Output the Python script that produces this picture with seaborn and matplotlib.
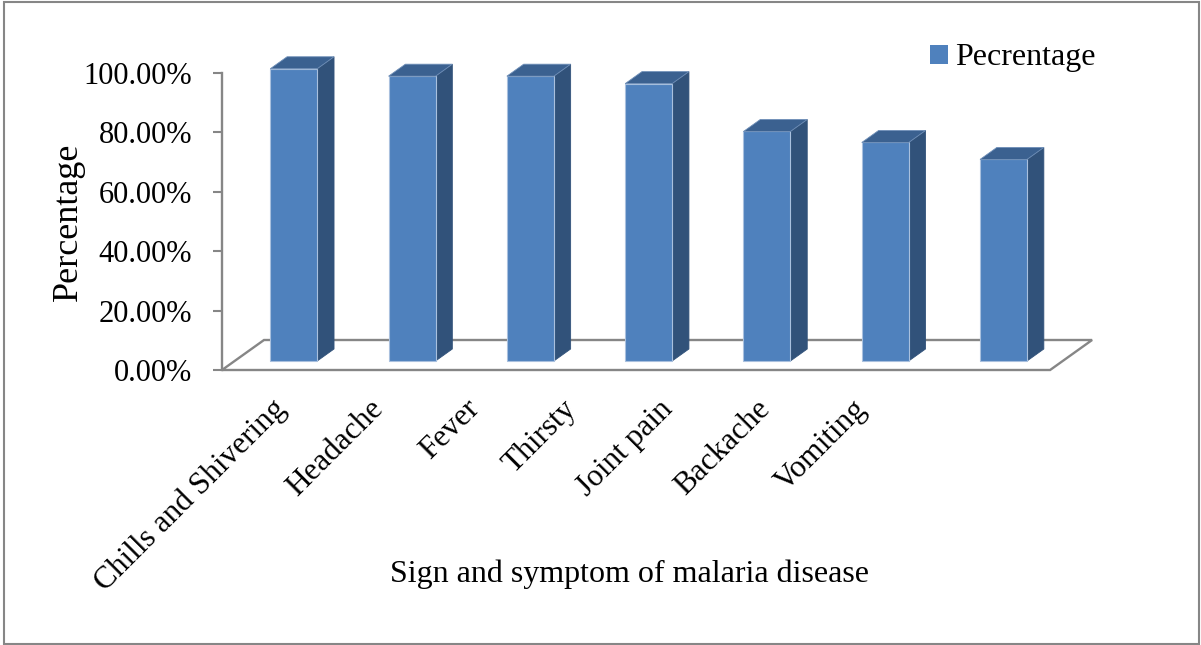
import matplotlib
matplotlib.use("Agg")
import matplotlib.pyplot as plt
import numpy as np
import pandas as pd
import seaborn as sns
from matplotlib.patches import Polygon, Rectangle, Patch
from matplotlib.ticker import FuncFormatter

# Survey results: share of respondents reporting each sign/symptom
symptoms = ["Chills and Shivering", "Headache", "Fever", "Thirsty",
            "Joint pain", "Backache", "Vomiting"]
percentages = [98.3, 95.8, 95.8, 93.3, 77.2, 73.5, 67.8]
y_ticks = [0, 20, 40, 60, 80, 100]
series_name = "Pecrentage"

sns.set_theme(style="white")
plt.rcParams["font.family"] = ["Liberation Serif", "DejaVu Serif"]
plt.rcParams["text.color"] = "black"
plt.rcParams["axes.labelcolor"] = "black"
plt.rcParams["xtick.labelcolor"] = "black"
plt.rcParams["ytick.labelcolor"] = "black"

FRONT = "#4F81BD"
SIDE = "#31527A"
TOP = "#3B6190"
EDGE = "#A9C0DE"
GRAY = "#868686"

W, H = 1201, 645
fig = plt.figure(figsize=(W / 100, H / 100), dpi=100)
fig.patch.set_facecolor("white")

# pixel scale of the front plane
PX_X = 118.3     # pixels per category
PX_Y = 2.973     # pixels per percentage point
X0_PX, Y0_PX = 222, 370
xlim = (-0.5, 6.9)
ylim = (0, 110)
ax = fig.add_axes([X0_PX / W, (H - Y0_PX) / H,
                   (xlim[1] - xlim[0]) * PX_X / W,
                   (ylim[1] - ylim[0]) * PX_Y / H])

df = pd.DataFrame({"symptom": symptoms, "pct": percentages})
sns.barplot(data=df, x="symptom", y="pct", color=FRONT, saturation=1,
            width=0.397, edgecolor=EDGE, linewidth=0.8, ax=ax, zorder=3,
            label=series_name, legend=False)

# oblique depth vector of the floor (in data units)
DX = 42 / PX_X
DY = 30 / PX_Y
FRONT_D, BAR_D = 0.3, 0.4

bars = list(ax.patches)
for p in bars:
    x = p.get_x() + FRONT_D * DX
    yb = FRONT_D * DY
    w, h = p.get_width(), p.get_height()
    p.set_x(x)
    p.set_y(yb)
    xr = x + w
    ddx, ddy = BAR_D * DX, BAR_D * DY
    side = Polygon([(xr, yb), (xr, yb + h), (xr + ddx, yb + h + ddy), (xr + ddx, yb + ddy)],
                   closed=True, facecolor=SIDE, edgecolor=SIDE, linewidth=0.6, zorder=2.9)
    top = Polygon([(x, yb + h), (xr, yb + h), (xr + ddx, yb + h + ddy), (x + ddx, yb + h + ddy)],
                  closed=True, facecolor=TOP, edgecolor="#6F8FB8", linewidth=0.6, zorder=3.1)
    ax.add_patch(side)
    ax.add_patch(top)

# floor of the 3-D plot area
n = len(symptoms)
floor = Polygon([(-0.5, 0), (n - 0.5, 0), (n - 0.5 + DX, DY), (-0.5 + DX, DY)],
                closed=True, fill=False, edgecolor=GRAY, linewidth=1.7, zorder=1,
                clip_on=False)
ax.add_patch(floor)

ax.set_xlim(*xlim)
ax.set_ylim(*ylim)

for s in ["top", "right", "bottom"]:
    ax.spines[s].set_visible(False)
ax.spines["left"].set_bounds(0, 100)
ax.spines["left"].set_color(GRAY)
ax.spines["left"].set_linewidth(1.7)

ax.set_yticks(y_ticks)
ax.yaxis.set_major_formatter(FuncFormatter(lambda v, _: f"{v:.2f}%"))
ax.tick_params(axis="y", left=True, direction="out", length=6.5, width=1.5,
               color=GRAY, pad=15, labelsize=22, labelcolor="black")

label_pos = [0.007 + 0.8174 * i for i in range(n)]
ax.set_xticks(label_pos)
ax.set_xticklabels(symptoms, rotation=45, ha="right", va="center",
                   rotation_mode="anchor", fontsize=22.5, color="black")
ax.tick_params(axis="x", length=0, pad=25)

ax.set_xlabel("Sign and symptom of malaria disease", fontsize=23, color="black")
ax.xaxis.set_label_coords(630 / W, 1 - 574 / H, transform=fig.transFigure)
ax.xaxis.label.set_va("center")
ax.set_ylabel("Percentage", fontsize=26, color="black")
ax.yaxis.set_label_coords(68 / W, 1 - 222 / H, transform=fig.transFigure)
ax.yaxis.label.set_va("center")

handle = Patch(facecolor=FRONT, edgecolor="none", label=series_name)
leg = fig.legend(handles=[handle], loc="center left",
                 bbox_to_anchor=(930 / W, 1 - 58 / H), frameon=False, fontsize=23,
                 handlelength=0.55, handleheight=0.55, handletextpad=0.25,
                 borderpad=0, borderaxespad=0, labelcolor="black")

# chart border
fig.add_artist(Rectangle((4 / W, 1.5 / H), (1199 - 4) / W, (644 - 4 - 1.5) / H + 0.004,
                         transform=fig.transFigure, fill=False,
                         edgecolor=GRAY, linewidth=1.5))

fig.savefig("out.png", dpi=100, facecolor="white")
